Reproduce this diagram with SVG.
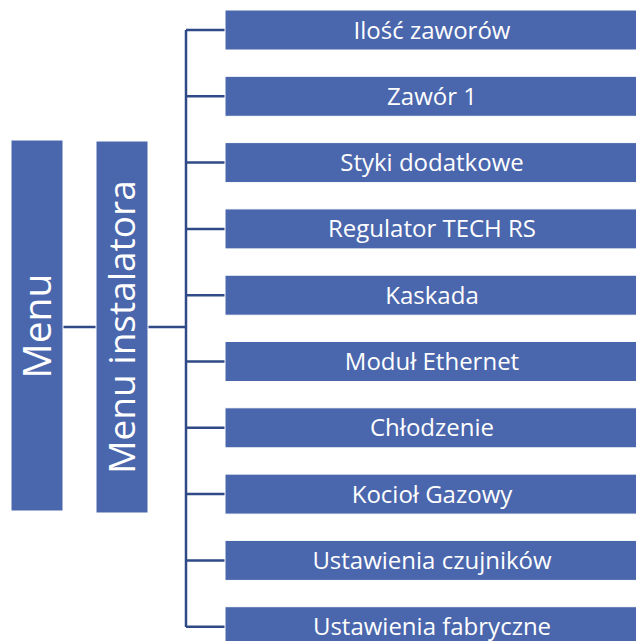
<svg xmlns="http://www.w3.org/2000/svg" width="636" height="641" viewBox="0 0 636 641">
<style>
.box{fill:#4A66AC;stroke:#ffffff;stroke-width:1}
.t{fill:#ffffff;font-family:"Open Sans","Liberation Sans",Arial,sans-serif;font-size:24px;text-anchor:middle}
.v{fill:#ffffff;font-family:"Open Sans","Liberation Sans",Arial,sans-serif;text-anchor:middle}
.c{stroke:#2F4A87;stroke-width:2.5;fill:none}
</style>
<rect width="636" height="641" fill="#ffffff"/>
<g id="connectors">
<line class="c" x1="63" y1="327" x2="96" y2="327"/>
<line class="c" x1="148" y1="327" x2="186" y2="327"/>
<line class="c" x1="186" y1="30" x2="186" y2="627"/>
<line class="c" x1="186" y1="30" x2="225" y2="30"/>
<line class="c" x1="186" y1="96.3" x2="225" y2="96.3"/>
<line class="c" x1="186" y1="162.6" x2="225" y2="162.6"/>
<line class="c" x1="186" y1="228.9" x2="225" y2="228.9"/>
<line class="c" x1="186" y1="295.2" x2="225" y2="295.2"/>
<line class="c" x1="186" y1="361.5" x2="225" y2="361.5"/>
<line class="c" x1="186" y1="427.8" x2="225" y2="427.8"/>
<line class="c" x1="186" y1="494.1" x2="225" y2="494.1"/>
<line class="c" x1="186" y1="560.4" x2="225" y2="560.4"/>
<line class="c" x1="186" y1="626.7" x2="225" y2="626.7"/>
</g>
<g id="menu">
<rect class="box" x="11" y="140" width="52" height="371"/>
<text class="v" font-size="39" transform="translate(51,326) rotate(-90)">Menu</text>
</g>
<g id="menu-instalatora">
<rect class="box" x="96" y="141" width="52" height="372"/>
<text class="v" font-size="37" transform="translate(135,327) rotate(-90)">Menu instalatora</text>
</g>
<g id="n1"><rect class="box" x="225" y="10" width="414" height="40"/><text class="t" x="432" y="38.5">Ilość zaworów</text></g>
<g id="n2"><rect class="box" x="225" y="76.3" width="414" height="40"/><text class="t" x="432" y="104.8">Zawór 1</text></g>
<g id="n3"><rect class="box" x="225" y="142.6" width="414" height="40"/><text class="t" x="432" y="171.1">Styki dodatkowe</text></g>
<g id="n4"><rect class="box" x="225" y="208.9" width="414" height="40"/><text class="t" x="432" y="237.4">Regulator TECH RS</text></g>
<g id="n5"><rect class="box" x="225" y="275.2" width="414" height="40"/><text class="t" x="432" y="303.7">Kaskada</text></g>
<g id="n6"><rect class="box" x="225" y="341.5" width="414" height="40"/><text class="t" x="432" y="370">Moduł Ethernet</text></g>
<g id="n7"><rect class="box" x="225" y="407.8" width="414" height="40"/><text class="t" x="432" y="436.3">Chłodzenie</text></g>
<g id="n8"><rect class="box" x="225" y="474.1" width="414" height="40"/><text class="t" x="432" y="502.6">Kocioł Gazowy</text></g>
<g id="n9"><rect class="box" x="225" y="540.4" width="414" height="40"/><text class="t" x="432" y="568.9">Ustawienia czujników</text></g>
<g id="n10"><rect class="box" x="225" y="606.7" width="414" height="40"/><text class="t" x="432" y="635.2">Ustawienia fabryczne</text></g>
</svg>
